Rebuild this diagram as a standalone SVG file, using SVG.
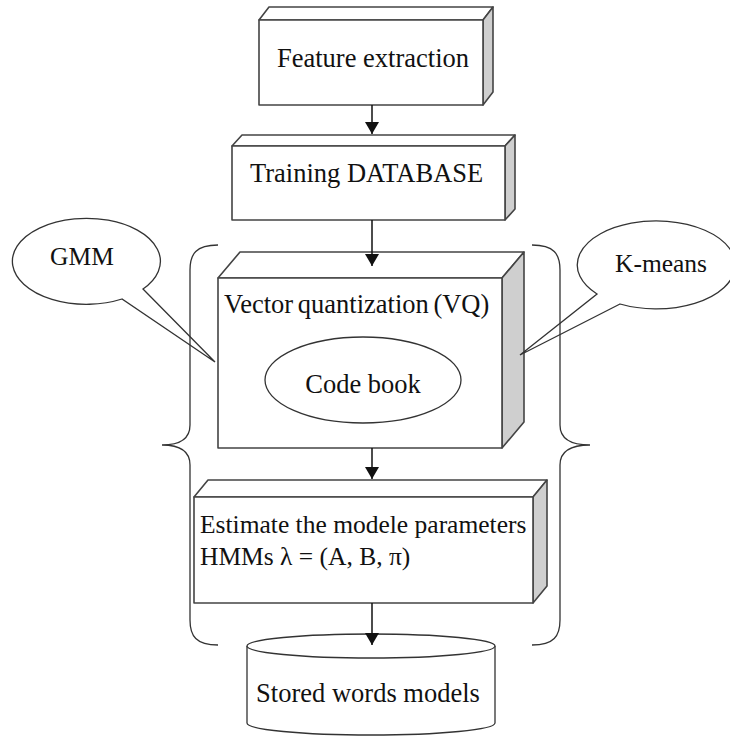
<svg xmlns="http://www.w3.org/2000/svg" width="730" height="736" viewBox="0 0 730 736">
<style>
.face{fill:#fff;stroke:#444;stroke-width:1.6;stroke-linejoin:round}
.side{fill:#cfcfcf;stroke:#444;stroke-width:1.6;stroke-linejoin:round}
.shape{fill:#fff;stroke:#333;stroke-width:1.3}
.brace{fill:none;stroke:#333;stroke-width:1.3}
.lbl{font-family:"Liberation Serif","Times New Roman",serif;font-size:26.5px;fill:#111}
.sm{font-size:25.5px}
.conn line{stroke:#111;stroke-width:1.5}
</style>
<defs>
<marker id="ah" viewBox="0 0 12 14" refX="12" refY="7" markerWidth="12" markerHeight="14" markerUnits="userSpaceOnUse" orient="auto">
<path d="M0,0 L12,7 L0,14 Z" fill="#111"/>
</marker>
</defs>
<rect width="730" height="736" fill="#fff"/>

<g id="feature-extraction">
<path class="face" d="M259,20 L269,7 L493,7 L483,20 Z"/>
<path class="side" d="M483,20 L493,7 L493,92 L483,105 Z"/>
<rect class="face" x="259" y="20" width="224" height="85"/>
<text class="lbl" x="373" y="67" text-anchor="middle">Feature extraction</text>
</g>

<g id="training-database">
<path class="face" d="M232,146 L242,135 L515,135 L505,146 Z"/>
<path class="side" d="M505,146 L515,135 L515,209 L505,220 Z"/>
<rect class="face" x="232" y="146" width="273" height="74"/>
<text class="lbl" x="250" y="182">Training DATABASE</text>
</g>

<g id="vector-quantization">
<path class="face" d="M218,278 L240,252 L524,252 L502,278 Z"/>
<path class="side" d="M502,278 L524,252 L524,422 L502,448 Z"/>
<rect class="face" x="218" y="278" width="284" height="170"/>
<text class="lbl" x="224" y="313" word-spacing="-2">Vector quantization (VQ)</text>
</g>

<g id="code-book">
<ellipse class="shape" cx="363" cy="380" rx="98" ry="43"/>
<text class="lbl" x="363" y="393" text-anchor="middle">Code book</text>
</g>

<g id="estimate-parameters">
<path class="face" d="M194,497 L208,480 L547,480 L533,497 Z"/>
<path class="side" d="M533,497 L547,480 L547,586 L533,603 Z"/>
<rect class="face" x="194" y="497" width="339" height="106"/>
<text class="lbl sm" x="200" y="533">Estimate the modele parameters</text>
<text class="lbl sm" x="200" y="565">HMMs λ = (A, B, π)</text>
</g>

<g id="stored-words-models">
<path class="shape" d="M247,646 L247,723 A124,12 0 0 0 495,723 L495,646"/>
<ellipse class="shape" cx="371" cy="646" rx="124" ry="12"/>
<text class="lbl" x="368" y="702" text-anchor="middle">Stored words models</text>
</g>

<g id="gmm">
<path class="shape" d="M143,289 L215,362 L122,299 A74,43 0 1 1 143,289 Z"/>
<text class="lbl sm" x="82" y="265" text-anchor="middle">GMM</text>
</g>

<g id="k-means">
<path class="shape" d="M620,304 L520,355 L597,294 A79,44 0 1 1 620,304 Z"/>
<text class="lbl sm" x="661" y="272" text-anchor="middle">K-means</text>
</g>

<g id="braces">
<path class="brace" d="M218,245 C196,245 190,254 190,270 L190,425 C190,438 181,445 162,445 C181,445 190,452 190,465 L190,620 C190,636 196,645 218,645"/>
<path class="brace" d="M532,245 C554,245 560,254 560,270 L560,425 C560,438 569,445 590,445 C569,445 560,452 560,465 L560,620 C560,636 554,645 532,645"/>
</g>

<g class="conn" id="connectors">
<line x1="372" y1="105" x2="372" y2="134" marker-end="url(#ah)"/>
<line x1="372" y1="220" x2="372" y2="266" marker-end="url(#ah)"/>
<line x1="372" y1="448" x2="372" y2="479" marker-end="url(#ah)"/>
<line x1="372" y1="603" x2="372" y2="645" marker-end="url(#ah)"/>
</g>
</svg>
